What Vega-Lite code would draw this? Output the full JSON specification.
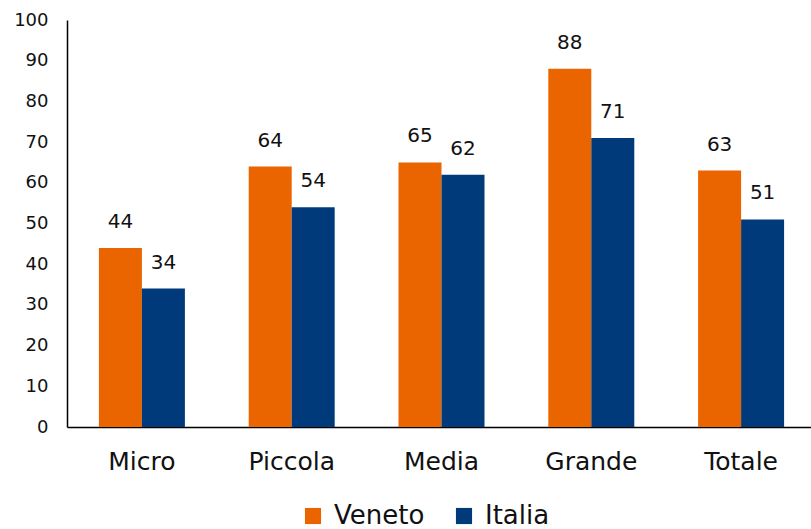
{
  "$schema": "https://vega.github.io/schema/vega-lite/v6.json",
  "autosize": "none",
  "width": 749,
  "height": 407,
  "padding": {"left": 67, "top": 20, "right": 0, "bottom": 102},
  "background": "white",
  "config": {
    "view": {"stroke": null},
    "font": "DejaVu Sans",
    "text": {"font": "DejaVu Sans"}
  },
  "data": {
    "values": [
      {"dim": "Micro", "area": "Veneto", "value": 44},
      {"dim": "Micro", "area": "Italia", "value": 34},
      {"dim": "Piccola", "area": "Veneto", "value": 64},
      {"dim": "Piccola", "area": "Italia", "value": 54},
      {"dim": "Media", "area": "Veneto", "value": 65},
      {"dim": "Media", "area": "Italia", "value": 62},
      {"dim": "Grande", "area": "Veneto", "value": 88},
      {"dim": "Grande", "area": "Italia", "value": 71},
      {"dim": "Totale", "area": "Veneto", "value": 63},
      {"dim": "Totale", "area": "Italia", "value": 51}
    ]
  },
  "encoding": {
    "x": {
      "field": "dim", "type": "nominal",
      "sort": ["Micro", "Piccola", "Media", "Grande", "Totale"],
      "scale": {"paddingInner": 0.426, "paddingOuter": 0.213},
      "axis": {
        "title": null, "labelAngle": 0, "ticks": false,
        "domainColor": "#000000", "domainWidth": 1.5,
        "labelFontSize": 25, "labelColor": "#111111",
        "labelPadding": 34, "labelBaseline": "middle"
      }
    },
    "xOffset": {"field": "area", "type": "nominal", "sort": ["Veneto", "Italia"]},
    "y": {
      "field": "value", "type": "quantitative",
      "scale": {"domain": [0, 100]},
      "axis": {
        "title": null, "grid": false, "ticks": false,
        "values": [0, 10, 20, 30, 40, 50, 60, 70, 80, 90, 100],
        "domainColor": "#000000", "domainWidth": 1.5,
        "labelFontSize": 18, "labelColor": "#111111", "labelPadding": 19
      }
    }
  },
  "layer": [
    {
      "mark": {"type": "bar"},
      "encoding": {
        "color": {
          "field": "area", "type": "nominal",
          "sort": ["Veneto", "Italia"],
          "scale": {"domain": ["Veneto", "Italia"], "range": ["#EA6500", "#003A7A"]},
          "legend": {
            "title": null, "orient": "none", "direction": "horizontal",
            "legendX": 233, "legendY": 483,
            "symbolType": "square", "symbolSize": 260, "symbolStrokeWidth": 0,
            "labelFontSize": 26, "labelColor": "#111111",
            "columnPadding": 26, "labelOffset": 8
          }
        }
      }
    },
    {
      "mark": {"type": "text", "baseline": "bottom", "dy": -16, "fontSize": 20, "color": "#111111"},
      "encoding": {"text": {"field": "value", "type": "quantitative"}}
    }
  ]
}
